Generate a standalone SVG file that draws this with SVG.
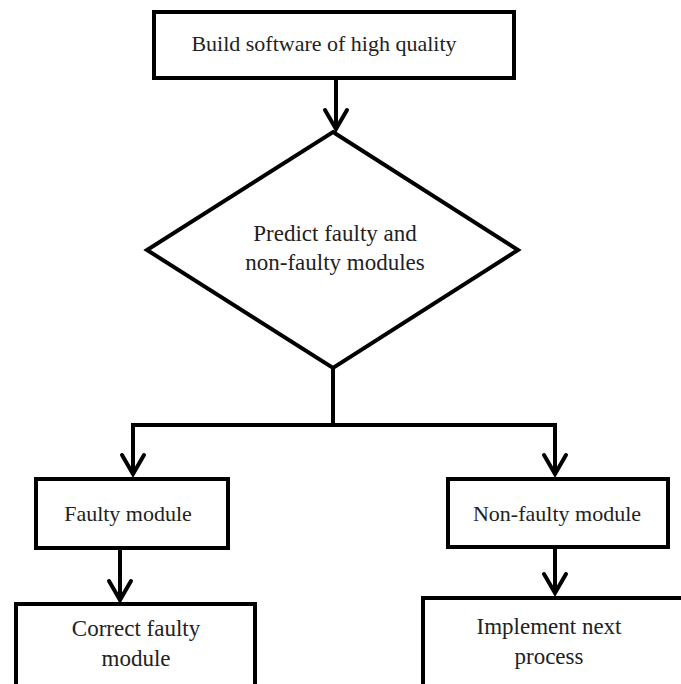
<svg xmlns="http://www.w3.org/2000/svg" width="681" height="684" viewBox="0 0 681 684">
<style>
.box{fill:#fff;stroke:#000;stroke-width:4}
.ln{fill:none;stroke:#000;stroke-width:4}
.hd{fill:none;stroke:#000;stroke-width:4;stroke-linecap:round;stroke-linejoin:miter}
text{font-family:"Liberation Serif","Times New Roman",serif;font-size:22px;fill:#222;text-anchor:middle}
.lg{font-size:23px}
</style>
<rect width="681" height="684" fill="#fff"/>
<g id="connectors">
<line class="ln" x1="336" y1="78" x2="336" y2="128"/>
<polyline class="hd" points="325,110 336,129 347,110"/>
<polyline class="ln" points="333,368 333,425 133,425 133,472"/>
<polyline class="hd" points="122,455 133,474 144,455"/>
<polyline class="ln" points="333,425 555,425 555,472"/>
<polyline class="hd" points="544,455 555,474 566,455"/>
<line class="ln" x1="120" y1="548" x2="120" y2="598"/>
<polyline class="hd" points="109,581 120,600 131,581"/>
<line class="ln" x1="555" y1="547" x2="555" y2="590"/>
<polyline class="hd" points="544,574 555,593 566,574"/>
</g>
<g id="n1">
<rect class="box" x="154" y="12" width="360" height="66"/>
<text x="324" y="51">Build software of high quality</text>
</g>
<g id="n2">
<polygon class="box" points="333,132 518,250 333,368 147,250"/>
<text class="lg" x="335" y="241">Predict faulty and</text>
<text class="lg" x="335" y="270">non-faulty modules</text>
</g>
<g id="n3">
<rect class="box" x="36" y="479" width="192" height="69"/>
<text x="128" y="521">Faulty module</text>
</g>
<g id="n4">
<rect class="box" x="448" y="479" width="220" height="68"/>
<text x="557" y="521">Non-faulty module</text>
</g>
<g id="n5">
<rect class="box" x="16" y="604" width="239" height="90"/>
<text class="lg" x="136" y="636">Correct faulty</text>
<text class="lg" x="136" y="666">module</text>
</g>
<g id="n6">
<rect class="box" x="423" y="598" width="270" height="96"/>
<text class="lg" x="549" y="634">Implement next</text>
<text class="lg" x="549" y="664">process</text>
</g>
</svg>
